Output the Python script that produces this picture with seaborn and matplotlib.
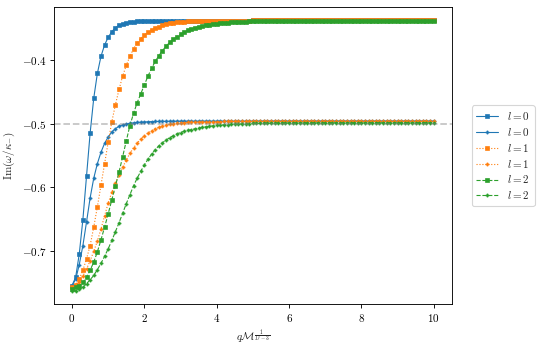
import numpy as np
import pandas as pd
import seaborn as sns
import matplotlib.pyplot as plt
from matplotlib.ticker import FuncFormatter

q = np.linspace(0, 10, 101)

# l = 0, upper branch (square markers)
l0_a = [
    -0.755, -0.742, -0.705, -0.651, -0.583, -0.515, -0.460, -0.421, -0.394, -0.376,
    -0.364, -0.355, -0.349, -0.345, -0.3425, -0.341, -0.340, -0.3393, -0.3388, -0.3385,
    -0.3383, -0.3381, -0.3380, -0.3379, -0.3378, -0.3378, -0.3377, -0.3377, -0.3376, -0.3376,
    -0.3376, -0.3376, -0.3376, -0.3376, -0.3376, -0.3376, -0.3376, -0.3376, -0.3376, -0.3376,
    -0.3376, -0.3376, -0.3376, -0.3376, -0.3376, -0.3376, -0.3376, -0.3376, -0.3376, -0.3376,
    -0.3375, -0.3375, -0.3375, -0.3375, -0.3375, -0.3375, -0.3375, -0.3375, -0.3375, -0.3375,
    -0.3375, -0.3375, -0.3375, -0.3375, -0.3375, -0.3375, -0.3375, -0.3375, -0.3375, -0.3375,
    -0.3375, -0.3375, -0.3375, -0.3375, -0.3375, -0.3375, -0.3375, -0.3375, -0.3375, -0.3375,
    -0.3375, -0.3375, -0.3375, -0.3375, -0.3375, -0.3375, -0.3375, -0.3375, -0.3375, -0.3375,
    -0.3375, -0.3375, -0.3375, -0.3375, -0.3375, -0.3375, -0.3375, -0.3375, -0.3375, -0.3375,
    -0.3375,
]
# l = 0, lower branch
l0_b = [
    -0.755, -0.745, -0.722, -0.692, -0.655, -0.617, -0.586, -0.563, -0.545, -0.531,
    -0.521, -0.513, -0.508, -0.504, -0.502, -0.5005, -0.4995, -0.4987, -0.4981, -0.4977,
    -0.4973, -0.4970, -0.4968, -0.4966, -0.4965, -0.4964, -0.4963, -0.4962, -0.4961, -0.4961,
    -0.4960, -0.4960, -0.4960, -0.4960, -0.4960, -0.4960, -0.4960, -0.4960, -0.4960, -0.4960,
    -0.4960, -0.4960, -0.4960, -0.4960, -0.4960, -0.4960, -0.4960, -0.4960, -0.4960, -0.4960,
    -0.4958, -0.4958, -0.4958, -0.4958, -0.4958, -0.4958, -0.4958, -0.4958, -0.4958, -0.4958,
    -0.4958, -0.4958, -0.4958, -0.4958, -0.4958, -0.4958, -0.4958, -0.4958, -0.4958, -0.4958,
    -0.4958, -0.4958, -0.4958, -0.4958, -0.4958, -0.4958, -0.4958, -0.4958, -0.4958, -0.4958,
    -0.4958, -0.4958, -0.4958, -0.4958, -0.4958, -0.4958, -0.4958, -0.4958, -0.4958, -0.4958,
    -0.4958, -0.4958, -0.4958, -0.4958, -0.4958, -0.4958, -0.4958, -0.4958, -0.4958, -0.4958,
    -0.4958,
]
# l = 1, upper branch
l1_a = [
    -0.758, -0.754, -0.745, -0.731, -0.713, -0.692, -0.663, -0.631, -0.597, -0.563,
    -0.529, -0.497, -0.470, -0.446, -0.425, -0.408, -0.394, -0.382, -0.373, -0.366,
    -0.360, -0.356, -0.352, -0.349, -0.347, -0.345, -0.3435, -0.3422, -0.3412, -0.3404,
    -0.3398, -0.3393, -0.3389, -0.3386, -0.3384, -0.3382, -0.3380, -0.3379, -0.3378, -0.3377,
    -0.3377, -0.3377, -0.3376, -0.3376, -0.3376, -0.3376, -0.3376, -0.3376, -0.3376, -0.3376,
    -0.3375, -0.3375, -0.3375, -0.3375, -0.3375, -0.3375, -0.3375, -0.3375, -0.3375, -0.3375,
    -0.3375, -0.3375, -0.3375, -0.3375, -0.3375, -0.3375, -0.3375, -0.3375, -0.3375, -0.3375,
    -0.3375, -0.3375, -0.3375, -0.3375, -0.3375, -0.3375, -0.3375, -0.3375, -0.3375, -0.3375,
    -0.3375, -0.3375, -0.3375, -0.3375, -0.3375, -0.3375, -0.3375, -0.3375, -0.3375, -0.3375,
    -0.3375, -0.3375, -0.3375, -0.3375, -0.3375, -0.3375, -0.3375, -0.3375, -0.3375, -0.3375,
    -0.3375,
]
# l = 1, lower branch
l1_b = [
    -0.758, -0.755, -0.749, -0.740, -0.729, -0.716, -0.701, -0.685, -0.666, -0.645,
    -0.625, -0.608, -0.594, -0.581, -0.569, -0.557, -0.547, -0.538, -0.531, -0.524,
    -0.519, -0.515, -0.511, -0.508, -0.506, -0.504, -0.5025, -0.5013, -0.5003, -0.4995,
    -0.4989, -0.4984, -0.4980, -0.4977, -0.4975, -0.4973, -0.4971, -0.4970, -0.4969, -0.4968,
    -0.4967, -0.4967, -0.4966, -0.4966, -0.4966, -0.4966, -0.4966, -0.4966, -0.4966, -0.4966,
    -0.4965, -0.4965, -0.4965, -0.4965, -0.4965, -0.4965, -0.4965, -0.4965, -0.4965, -0.4965,
    -0.4964, -0.4964, -0.4964, -0.4964, -0.4964, -0.4964, -0.4964, -0.4964, -0.4964, -0.4964,
    -0.4964, -0.4964, -0.4964, -0.4964, -0.4964, -0.4964, -0.4964, -0.4964, -0.4964, -0.4964,
    -0.4963, -0.4963, -0.4963, -0.4963, -0.4963, -0.4963, -0.4963, -0.4963, -0.4963, -0.4963,
    -0.4963, -0.4963, -0.4963, -0.4963, -0.4963, -0.4963, -0.4963, -0.4963, -0.4963, -0.4963,
    -0.4963,
]
# l = 2, upper branch
l2_a = [
    -0.760, -0.758, -0.755, -0.750, -0.742, -0.731, -0.718, -0.702, -0.683, -0.663,
    -0.642, -0.620, -0.598, -0.576, -0.552, -0.527, -0.503, -0.484, -0.467, -0.453,
    -0.439, -0.425, -0.413, -0.402, -0.393, -0.385, -0.378, -0.372, -0.367, -0.363,
    -0.359, -0.356, -0.353, -0.351, -0.349, -0.347, -0.3459, -0.3449, -0.3440, -0.3432,
    -0.3425, -0.3419, -0.3414, -0.3409, -0.3405, -0.3401, -0.3398, -0.3395, -0.3393, -0.3391,
    -0.3389, -0.3387, -0.3386, -0.3384, -0.3383, -0.3382, -0.3381, -0.3380, -0.3380, -0.3379,
    -0.3379, -0.3378, -0.3378, -0.3378, -0.3378, -0.3377, -0.3377, -0.3377, -0.3377, -0.3377,
    -0.3377, -0.3377, -0.3377, -0.3377, -0.3377, -0.3376, -0.3376, -0.3376, -0.3376, -0.3376,
    -0.3376, -0.3376, -0.3376, -0.3376, -0.3376, -0.3376, -0.3376, -0.3376, -0.3376, -0.3376,
    -0.3376, -0.3376, -0.3376, -0.3376, -0.3376, -0.3376, -0.3376, -0.3376, -0.3376, -0.3376,
    -0.3376,
]
# l = 2, lower branch
l2_b = [
    -0.763, -0.763, -0.761, -0.758, -0.752, -0.746, -0.739, -0.730, -0.720, -0.709,
    -0.697, -0.684, -0.670, -0.656, -0.641, -0.626, -0.612, -0.598, -0.586, -0.575,
    -0.565, -0.556, -0.548, -0.541, -0.535, -0.530, -0.526, -0.522, -0.519, -0.516,
    -0.514, -0.512, -0.5105, -0.5095, -0.5080, -0.5068, -0.5058, -0.5049, -0.5041, -0.5034,
    -0.5028, -0.5023, -0.5018, -0.5014, -0.5011, -0.5008, -0.5005, -0.5003, -0.5001, -0.4999,
    -0.4997, -0.4996, -0.4995, -0.4994, -0.4993, -0.4992, -0.4991, -0.4990, -0.4990, -0.4989,
    -0.4989, -0.4988, -0.4988, -0.4988, -0.4987, -0.4987, -0.4987, -0.4987, -0.4986, -0.4986,
    -0.4986, -0.4986, -0.4986, -0.4986, -0.4986, -0.4986, -0.4986, -0.4986, -0.4986, -0.4986,
    -0.4986, -0.4986, -0.4986, -0.4986, -0.4986, -0.4986, -0.4986, -0.4986, -0.4986, -0.4986,
    -0.4986, -0.4986, -0.4986, -0.4986, -0.4986, -0.4986, -0.4986, -0.4986, -0.4986, -0.4986,
    -0.4986,
]

series = [
    (l0_a, "$l=0$", "tab:blue", "-", "s", 3.2),
    (l0_b, "$l=0$", "tab:blue", "-", "P", 2.8),
    (l1_a, "$l=1$", "tab:orange", ":", "s", 3.2),
    (l1_b, "$l=1$", "tab:orange", ":", "P", 2.8),
    (l2_a, "$l=2$", "tab:green", "--", "s", 3.2),
    (l2_b, "$l=2$", "tab:green", "--", "P", 2.8),
]

sns.set_style("ticks")
plt.rcParams["mathtext.fontset"] = "cm"
plt.rcParams["font.family"] = ["DejaVu Serif"]
plt.rcParams["axes.edgecolor"] = "black"
plt.rcParams["xtick.color"] = "black"
plt.rcParams["ytick.color"] = "black"

fig, ax = plt.subplots(figsize=(545 / 80, 348 / 80), dpi=80)
fig.subplots_adjust(left=0.099, right=0.829, bottom=0.126, top=0.980)

for vals, lab, col, ls, mk, ms in series:
    df = pd.DataFrame({"q": q, "im": vals})
    sns.lineplot(data=df, x="q", y="im", ax=ax, color=col, linestyle=ls,
                 marker=mk, markersize=ms, markeredgewidth=0.6,
                 markeredgecolor=col, linewidth=1, label=lab)

ax.axhline(-0.5, color="gray", alpha=0.45, linestyle="--", linewidth=1.6)

ax.set_xticks([0, 2, 4, 6, 8, 10])
ax.set_yticks([-0.7, -0.6, -0.5, -0.4])
ax.xaxis.set_major_formatter(FuncFormatter(lambda v, p: f"${v:g}$"))
ax.yaxis.set_major_formatter(FuncFormatter(lambda v, p: f"${v:g}$"))
ax.tick_params(labelsize=10)
ax.set_xlabel(r"$q\mathcal{M}^{\frac{1}{D-3}}$", fontsize=10)
ax.set_ylabel(r"$\mathrm{Im}(\omega/\kappa_{-})$", fontsize=10)

ax.legend(loc="center left", bbox_to_anchor=(1.05, 0.5), borderaxespad=0,
          fontsize=10, labelspacing=0.35, frameon=True)

fig.savefig("out.png", dpi=80)
